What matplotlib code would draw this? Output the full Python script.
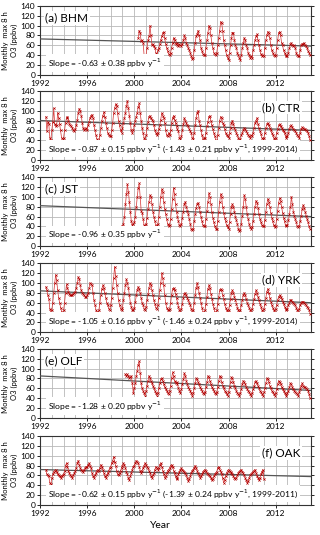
import numpy as np
import matplotlib.pyplot as plt
from matplotlib.ticker import MultipleLocator

plt.rcParams['font.family'] = ['Lato', 'DejaVu Sans']

# monthly max 8 h O3 (ppbv), first value at start year (decimal)
bhm_start = 2000 + 4 / 12
bhm_o3 = [
    75, 90, 85, 68, 70, 65, 40, 40,
    40, 55, 70, 78, 100, 80, 60, 62, 58, 55, 45, 35,
    50, 55, 62, 70, 78, 85, 87, 75, 62, 55, 48, 42,
    40, 45, 55, 65, 75, 70, 62, 65, 60, 58, 62, 60,
    58, 62, 70, 80, 75, 65, 60, 55, 50, 45, 38, 32,
    35, 50, 65, 78, 82, 90, 80, 70, 55, 48, 42, 40,
    40, 55, 70, 85, 100, 95, 80, 65, 55, 45, 42, 40,
    45, 60, 75, 90, 108, 105, 90, 70, 60, 50, 40, 35,
    30, 45, 60, 75, 86, 85, 70, 60, 55, 45, 40, 35,
    30, 40, 55, 65, 75, 70, 60, 55, 45, 40, 35, 38,
    35, 50, 60, 70, 78, 82, 70, 60, 50, 42, 38, 40,
    38, 55, 70, 80, 88, 85, 75, 60, 50, 45, 40, 38,
    40, 55, 70, 85, 88, 80, 65, 60, 50, 45, 40, 38,
    38, 45, 55, 62, 65, 60, 58, 60, 55, 45, 40, 38,
    38, 50, 60, 63, 62, 65, 60, 58, 55, 48, 45, 40,
]

ctr_start = 1992 + 6 / 12
ctr_o3 = [
    88, 58, 78, 72, 45, 40,
    60, 78, 105, 72, 68, 70, 96, 85, 72, 60, 45, 42,
    45, 60, 75, 85, 88, 80, 72, 70, 68, 65, 60, 58,
    62, 70, 82, 95, 104, 100, 90, 75, 65, 60, 62, 65,
    60, 70, 78, 85, 90, 92, 85, 70, 60, 50, 42, 40,
    38, 50, 65, 80, 90, 97, 88, 75, 65, 55, 50, 48,
    48, 60, 75, 95, 105, 113, 110, 95, 80, 70, 60, 55,
    65, 75, 85, 95, 110, 120, 105, 90, 75, 60, 55, 60,
    70, 80, 88, 95, 108, 115, 95, 80, 65, 55, 45, 40,
    50, 65, 78, 88, 90, 85, 82, 80, 70, 60, 55, 50,
    55, 62, 70, 82, 95, 90, 85, 75, 60, 50, 48, 55,
    50, 60, 75, 85, 90, 82, 75, 68, 62, 58, 45, 42,
    48, 60, 72, 85, 80, 75, 70, 68, 62, 58, 55, 45,
    42, 55, 70, 85, 95, 100, 80, 70, 60, 50, 40, 45,
    45, 55, 68, 78, 88, 90, 80, 70, 62, 55, 48, 40,
    38, 50, 65, 80, 88, 85, 75, 70, 62, 55, 50, 48,
    45, 55, 65, 75, 80, 72, 65, 60, 55, 50, 45, 40,
    42, 50, 55, 60, 65, 62, 58, 55, 50, 48, 45, 50,
    48, 55, 65, 75, 80, 85, 72, 65, 58, 52, 45, 42,
    45, 55, 65, 72, 75, 70, 65, 60, 55, 50, 45, 40,
    45, 55, 62, 70, 72, 68, 65, 60, 58, 55, 48, 45,
    48, 55, 62, 68, 70, 66, 62, 60, 58, 55, 50, 48,
    45, 55, 62, 66, 65, 62, 62, 60, 58, 55, 48, 40,
]

jst_start = 1999.0
jst_o3 = [
    40, 45, 60, 85, 105, 125, 110, 90, 70, 50, 42, 45,
    48, 60, 80, 100, 118, 127, 100, 72, 68, 55, 42, 40,
    45, 58, 75, 90, 103, 100, 85, 70, 60, 50, 40, 42,
    45, 60, 80, 100, 115, 110, 90, 75, 65, 55, 45, 40,
    42, 55, 75, 95, 118, 105, 85, 70, 60, 50, 42, 40,
    45, 58, 70, 85, 90, 80, 72, 65, 55, 45, 35, 32,
    35, 50, 65, 78, 85, 88, 80, 70, 60, 50, 42, 40,
    40, 55, 72, 90, 107, 100, 85, 70, 58, 48, 40, 35,
    35, 50, 70, 90, 105, 100, 80, 68, 58, 50, 42, 38,
    35, 48, 65, 80, 85, 80, 70, 60, 52, 45, 35, 30,
    32, 45, 62, 80, 103, 95, 80, 65, 55, 45, 38, 35,
    38, 50, 65, 80, 92, 88, 78, 65, 55, 48, 42, 40,
    40, 52, 70, 85, 96, 90, 80, 68, 58, 50, 42, 38,
    40, 55, 72, 88, 97, 92, 80, 68, 58, 50, 42, 40,
    42, 52, 65, 80, 100, 85, 70, 62, 55, 48, 40, 38,
    40, 50, 62, 75, 83, 78, 70, 62, 55, 48, 40, 35,
]

yrk_start = 1992 + 6 / 12
yrk_o3 = [
    92, 85, 75, 68, 48, 40,
    45, 60, 80, 100, 117, 105, 85, 70, 60, 50, 42, 40,
    45, 60, 80, 97, 90, 82, 78, 75, 75, 76, 78, 80,
    82, 90, 100, 112, 108, 95, 85, 80, 78, 75, 72, 72,
    75, 80, 90, 100, 98, 95, 80, 65, 55, 45, 42, 40,
    45, 60, 75, 88, 95, 90, 80, 70, 60, 55, 48, 45,
    55, 70, 90, 110, 133, 115, 95, 80, 65, 55, 48, 45,
    50, 65, 80, 95, 107, 100, 90, 75, 60, 52, 45, 45,
    50, 62, 75, 85, 92, 88, 80, 70, 60, 55, 48, 45,
    52, 65, 78, 90, 100, 95, 85, 75, 65, 58, 50, 48,
    55, 70, 85, 100, 120, 110, 95, 75, 60, 50, 45, 45,
    48, 60, 75, 88, 90, 85, 78, 70, 60, 52, 45, 42,
    48, 58, 70, 78, 80, 75, 70, 65, 60, 55, 48, 42,
    45, 60, 75, 90, 100, 92, 80, 70, 60, 50, 42, 40,
    45, 58, 72, 88, 95, 90, 78, 68, 58, 50, 42, 40,
    45, 58, 72, 85, 88, 85, 75, 68, 58, 50, 45, 42,
    45, 55, 68, 80, 85, 80, 72, 65, 58, 50, 45, 42,
    45, 55, 65, 75, 80, 75, 68, 60, 55, 50, 45, 42,
    48, 58, 68, 78, 85, 80, 72, 65, 58, 52, 45, 42,
    48, 58, 70, 82, 88, 80, 70, 62, 55, 50, 45, 42,
    48, 55, 65, 72, 75, 72, 68, 62, 58, 52, 48, 45,
    48, 55, 60, 65, 65, 62, 60, 58, 55, 50, 45, 42,
    48, 55, 60, 62, 62, 60, 58, 55, 52, 50, 45, 38,
]

olf_start = 1999 + 3 / 12
olf_o3 = [
    88, 85, 88, 85, 80, 82, 85, 70, 50,
    60, 70, 85, 95, 108, 115, 90, 70, 60, 55, 50, 45,
    55, 65, 75, 85, 80, 75, 70, 65, 60, 55, 50, 45,
    50, 60, 70, 78, 80, 75, 68, 62, 58, 55, 50, 48,
    55, 65, 80, 92, 85, 75, 70, 72, 68, 60, 55, 50,
    58, 68, 78, 90, 85, 75, 68, 62, 58, 55, 50, 45,
    50, 60, 70, 80, 78, 72, 68, 62, 58, 55, 50, 48,
    52, 62, 72, 85, 82, 75, 68, 62, 58, 55, 50, 48,
    52, 62, 75, 85, 82, 72, 65, 60, 55, 52, 48, 45,
    52, 62, 72, 82, 80, 72, 65, 60, 55, 50, 48, 45,
    50, 58, 68, 75, 72, 68, 62, 58, 55, 52, 48, 45,
    50, 58, 65, 72, 75, 70, 65, 60, 55, 52, 48, 45,
    52, 60, 70, 80, 78, 72, 65, 60, 55, 52, 48, 45,
    50, 58, 68, 75, 72, 68, 62, 58, 55, 50, 48, 45,
    50, 55, 62, 70, 68, 62, 58, 55, 52, 50, 48, 45,
    52, 58, 65, 70, 65, 62, 62, 60, 58, 55, 48, 40,
]

oak_start = 1992 + 6 / 12
oak_o3 = [
    72, 62, 60, 58, 45, 42,
    55, 62, 68, 70, 72, 68, 62, 60, 58, 55, 58, 60,
    62, 70, 80, 85, 78, 70, 65, 60, 58, 55, 60, 65,
    70, 75, 85, 90, 82, 75, 72, 70, 68, 72, 75, 78,
    78, 82, 85, 80, 75, 65, 58, 55, 60, 65, 70, 72,
    70, 75, 82, 78, 72, 65, 58, 55, 60, 65, 70, 75,
    78, 85, 90, 98, 88, 80, 70, 62, 60, 65, 70, 75,
    80, 85, 82, 75, 68, 62, 55, 50, 58, 65, 72, 78,
    80, 85, 90, 88, 85, 78, 70, 65, 70, 75, 80, 85,
    82, 78, 75, 70, 65, 58, 55, 60, 65, 72, 78, 75,
    72, 75, 82, 85, 78, 70, 62, 55, 58, 65, 70, 72,
    75, 80, 82, 78, 70, 65, 58, 52, 55, 62, 68, 72,
    75, 72, 70, 68, 65, 60, 55, 48, 52, 58, 65, 70,
    72, 75, 80, 75, 70, 65, 60, 55, 58, 62, 68, 70,
    72, 70, 65, 62, 60, 58, 55, 50, 52, 58, 62, 65,
    68, 75, 78, 72, 68, 62, 55, 45, 50, 58, 65, 70,
    72, 70, 68, 65, 62, 58, 55, 52, 55, 60, 65, 68,
    70, 72, 68, 65, 60, 55, 50, 45, 48, 55, 60, 62,
    65, 68, 70, 72, 65, 58, 55, 50, 55, 62, 68, 72,
    52,
]

labels = ["(a) BHM", "(b) CTR", "(c) JST", "(d) YRK", "(e) OLF", "(f) OAK"]
series = [bhm_o3, ctr_o3, jst_o3, yrk_o3, olf_o3, oak_o3]
starts = [bhm_start, ctr_start, jst_start, yrk_start, olf_start, oak_start]
trend_1992 = [73, 80, 82, 84, 85, 72]      # trend line value at 1992
trend_slope = [-0.63, -0.87, -0.96, -1.05, -1.28, -0.62]
slope_text = [
    r"Slope = -0.63 ± 0.38 ppbv y$^{-1}$",
    r"Slope = -0.87 ± 0.15 ppbv y$^{-1}$ (-1.43 ± 0.21 ppbv y$^{-1}$, 1999-2014)",
    r"Slope = -0.96 ± 0.35 ppbv y$^{-1}$",
    r"Slope = -1.05 ± 0.16 ppbv y$^{-1}$ (-1.46 ± 0.24 ppbv y$^{-1}$, 1999-2014)",
    r"Slope = -1.28 ± 0.20 ppbv y$^{-1}$",
    r"Slope = -0.62 ± 0.15 ppbv y$^{-1}$ (-1.39 ± 0.24 ppbv y$^{-1}$, 1999-2011)",
]
label_right = [False, True, False, True, False, True]

fig = plt.figure(figsize=(3.2, 5.35), dpi=100)
bottoms = [0.860, 0.701, 0.540, 0.379, 0.219, 0.056]

for i in range(6):
    ax = fig.add_axes([0.125, bottoms[i], 0.847, 0.129])
    y = np.array(series[i])
    x = starts[i] + np.arange(len(y)) / 12
    xt = np.array([1992, 2015])
    ax.plot(xt, trend_1992[i] + trend_slope[i] * (xt - 1992), color='#555555', lw=0.9, zorder=3)
    ax.plot(x, y, color='#d84040', lw=0.55, marker='x', ms=1.6, mew=0.45,
            mec='#b00000', zorder=4)

    ax.set_xlim(1992, 2015)
    ax.set_ylim(0, 140)
    ax.xaxis.set_major_locator(MultipleLocator(4))
    ax.xaxis.set_minor_locator(MultipleLocator(1))
    ax.yaxis.set_major_locator(MultipleLocator(20))
    ax.grid(which='both', axis='x', color='#b8b8b8', lw=0.6)
    ax.grid(which='major', axis='y', color='#b8b8b8', lw=0.6)
    ax.set_axisbelow(True)
    ax.tick_params(labelsize=6, length=2, width=0.6, pad=1.5, right=True)
    ax.tick_params(which='minor', length=0)
    for s in ax.spines.values():
        s.set_linewidth(0.8)
        s.set_color('#333333')
    ax.set_ylabel("Monthly  max 8 h\nO3 (ppbv)", fontsize=5.5, labelpad=2, linespacing=1.3)

    if label_right[i]:
        ax.text(0.96, 0.76, labels[i], transform=ax.transAxes, ha='right', va='center',
                fontsize=8.5, bbox=dict(fc='white', ec='none', pad=1), zorder=5)
    else:
        ax.text(0.02, 0.83, labels[i], transform=ax.transAxes, ha='left', va='center',
                fontsize=8.5, bbox=dict(fc='white', ec='none', pad=1), zorder=5)
    ax.text(0.03, 0.17, slope_text[i], transform=ax.transAxes, ha='left', va='center',
            fontsize=6.1, bbox=dict(fc='white', ec='none', pad=1.5), zorder=5)

fig.text(0.5, 0.018, "Year", ha='center', va='center', fontsize=7.5)

fig.savefig("out.png", dpi=100)
